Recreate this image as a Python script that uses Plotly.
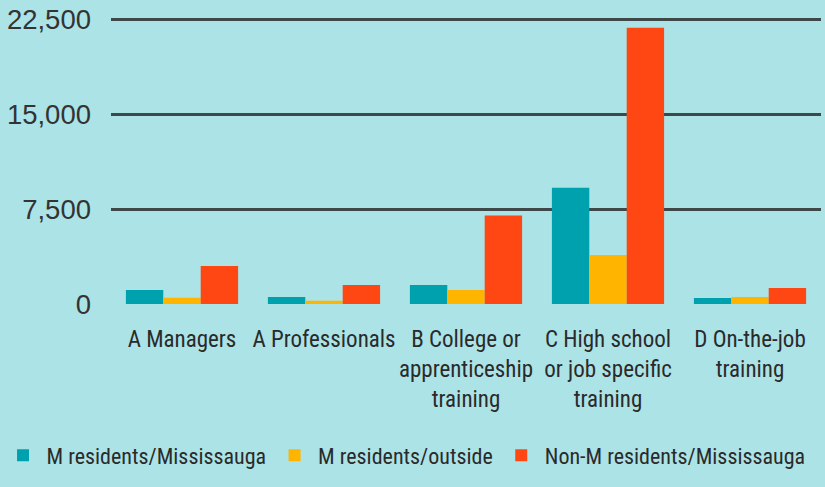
import plotly.graph_objects as go

categories = [
    "A Managers",
    "A Professionals",
    "B College or<br>apprenticeship<br>training",
    "C High school<br>or job specific<br>training",
    "D On-the-job<br>training",
]
series_names = ["M residents/Mississauga", "M residents/outside", "Non-M residents/Mississauga"]
m_res_miss = [1100, 550, 1500, 9200, 480]
m_res_out = [500, 250, 1100, 3880, 550]
nonm_res_miss = [3000, 1500, 7000, 21850, 1270]
colors = ["#00A1AF", "#FFB400", "#FF4713"]
y_ticks = [0, 7500, 15000, 22500]
y_tick_labels = ["0", "7,500", "15,000", "22,500"]

BG = "#ACE3E6"
narrow = "Roboto Condensed, DejaVu Sans Condensed, sans-serif"

fig = go.Figure()
for name, vals, col in zip(series_names, [m_res_miss, m_res_out, nonm_res_miss], colors):
    fig.add_trace(go.Bar(x=categories, y=vals, name=name, marker=dict(color=col, line=dict(width=0))))

fig.update_layout(
    width=825, height=487,
    paper_bgcolor=BG, plot_bgcolor=BG,
    margin=dict(l=111, r=4, t=17, b=183, autoexpand=False),
    barmode="group", bargap=0.21, bargroupgap=0,
    showlegend=True,
    legend=dict(
        orientation="h", x=-0.157, xanchor="left", y=-0.528, yanchor="middle",
        font=dict(family=narrow, size=22, color="#2a2a2a"),
        itemwidth=37,
        bgcolor="rgba(0,0,0,0)",
    ),
    xaxis=dict(
        tickfont=dict(family=narrow, size=23, color="#2a2a2a"), tickangle=0,
        showgrid=False, showline=False, zeroline=False, ticks="",
        ticklabelstandoff=19,
    ),
    yaxis=dict(
        range=[0, 22700], tickvals=y_ticks, ticktext=y_tick_labels,
        tickfont=dict(family="Liberation Sans, Arial, sans-serif", size=27.5, color="#333333"),
        showgrid=True, gridcolor="#3f4848", gridwidth=2.5,
        zeroline=False, showline=False, ticks="",
        layer="above traces", ticklabelstandoff=19,
    ),
)

fig.write_html(
    "out.html",
    config={"displayModeBar": False},
    post_script="document.body.style.margin='0';document.body.style.background='%s';" % BG,
)
